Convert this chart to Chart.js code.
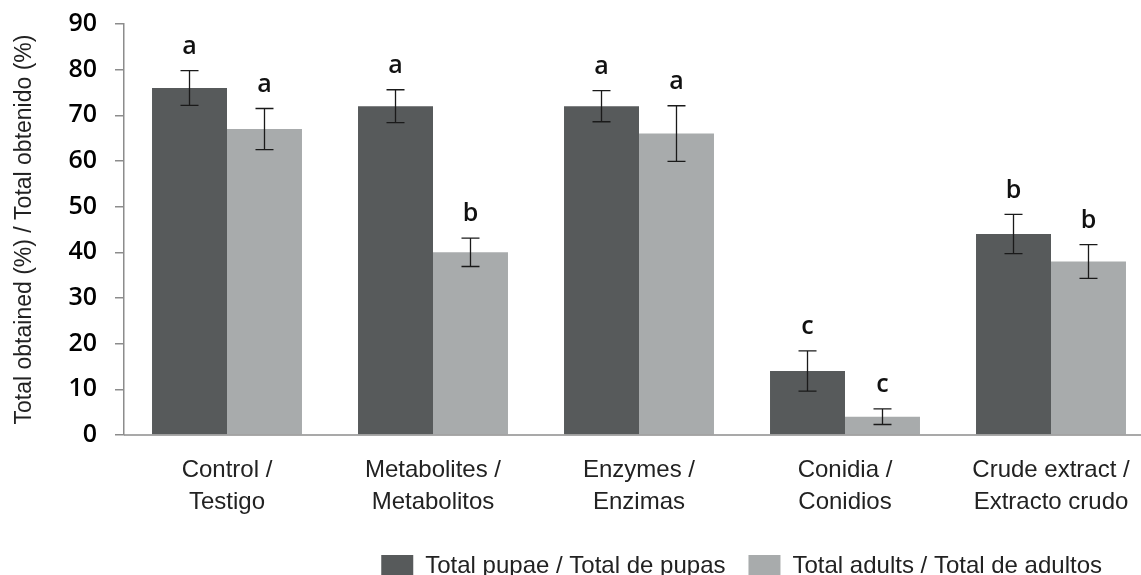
<!DOCTYPE html>
<html>
<head>
<meta charset="utf-8">
<script src="https://cdn.jsdelivr.net/npm/chart.js@4.4.1/dist/chart.umd.min.js"></script>
<style>
    html, body { margin: 0; padding: 0; background: #fff; overflow: hidden; }
    #wrap { width: 1141px; height: 575px; overflow: hidden; }
</style>
</head>
<body>
<div id="wrap"><canvas id="chart" width="1160" height="575"></canvas></div>
<script>
var categories = [
    ['Control /', 'Testigo'],
    ['Metabolites /', 'Metabolitos'],
    ['Enzymes /', 'Enzimas'],
    ['Conidia /', 'Conidios'],
    ['Crude extract /', 'Extracto crudo']
];
var pupae = [76, 72, 72, 14, 44];
var pupaeErr = [3.8, 3.6, 3.4, 4.4, 4.3];
var pupaeLetters = ['a', 'a', 'a', 'c', 'b'];
var adults = [67, 40, 66, 4, 38];
var adultsErr = [4.5, 3.1, 6.1, 1.7, 3.7];
var adultsLetters = ['a', 'b', 'a', 'c', 'b'];
var yTicks = [0, 10, 20, 30, 40, 50, 60, 70, 80, 90];

var errors = [pupaeErr, adultsErr];
var letters = [pupaeLetters, adultsLetters];

// error bars + significance letters on top of each bar
var errorBarPlugin = {
    id: 'errorBars',
    afterDatasetsDraw: function (chart) {
        var ctx = chart.ctx;
        var y = chart.scales.y;
        ctx.save();
        chart.data.datasets.forEach(function (ds, i) {
            var meta = chart.getDatasetMeta(i);
            meta.data.forEach(function (bar, j) {
                var v = ds.data[j];
                var e = errors[i][j];
                var top = y.getPixelForValue(v + e);
                var bot = y.getPixelForValue(v - e);
                ctx.strokeStyle = '#1a1a1a';
                ctx.lineWidth = 1.3;
                ctx.beginPath();
                ctx.moveTo(bar.x, top); ctx.lineTo(bar.x, bot);
                ctx.moveTo(bar.x - 9, top); ctx.lineTo(bar.x + 9, top);
                ctx.moveTo(bar.x - 9, bot); ctx.lineTo(bar.x + 9, bot);
                ctx.stroke();

                ctx.fillStyle = '#111';
                ctx.font = '600 25px "Open Sans"';
                ctx.textAlign = 'center';
                ctx.textBaseline = 'middle';
                ctx.fillText(letters[i][j], bar.x, top - 24);
            });
        });
        // x axis line runs on to the page edge
        ctx.strokeStyle = '#8c8c8c';
        ctx.lineWidth = 1.5;
        ctx.beginPath();
        ctx.moveTo(chart.chartArea.left, chart.chartArea.bottom);
        ctx.lineTo(chart.width, chart.chartArea.bottom);
        ctx.stroke();
        ctx.restore();
    },
    afterLayout: function (chart) {
        // put the legend low and a bit left, like in the original
        var lg = chart.legend;
        var h = lg.bottom - lg.top;
        lg.top = 531;
        lg.bottom = lg.top + h;
        lg.left -= 29; lg.right -= 29;
    }
};

var ctx = document.getElementById('chart');
var myChart = new Chart(ctx, {
    type: 'bar',
    data: {
        labels: categories,
        datasets: [{
            label: 'Total pupae / Total de pupas',
            data: pupae,
            backgroundColor: '#575a5b',
            borderWidth: 0
        }, {
            label: 'Total adults / Total de adultos',
            data: adults,
            backgroundColor: '#a8abac',
            borderWidth: 0
        }]
    },
    plugins: [errorBarPlugin],
    options: {
        responsive: false,
        animation: false,
        devicePixelRatio: 1,
        layout: {
            padding: { left: 0, right: 6, top: 0, bottom: -20 }
        },
        datasets: {
            bar: {
                categoryPercentage: 0.728,
                barPercentage: 1.0
            }
        },
        scales: {
            x: {
                grid: { display: false, drawTicks: false },
                border: { display: false },
                ticks: {
                    color: '#222',
                    padding: 19,
                    maxRotation: 0,
                    autoSkip: false,
                    font: { family: '"Liberation Sans", Arial, sans-serif', size: 24, lineHeight: 1.33 }
                },
                afterFit: function (scale) { scale.height = 103; }
            },
            y: {
                min: 0,
                max: 90,
                afterBuildTicks: function (scale) {
                    scale.ticks = yTicks.map(function (v) { return { value: v }; });
                },
                grid: { drawOnChartArea: false, tickLength: 9, color: '#8c8c8c', lineWidth: 1.5 },
                border: { color: '#8c8c8c', width: 1.5 },
                ticks: {
                    color: '#000',
                    padding: 18,
                    font: { family: '"Open Sans"', size: 25, weight: '600' }
                },
                title: {
                    display: true,
                    text: 'Total obtained (%) / Total obtenido (%)',
                    color: '#222',
                    padding: { top: 11, bottom: 0 },
                    font: { family: '"Liberation Sans", Arial, sans-serif', size: 23 }
                },
                afterFit: function (scale) {
                    scale.width = 124;
                    scale.paddingTop = 24;
                    scale.paddingBottom = 0;
                }
            }
        },
        plugins: {
            legend: {
                position: 'bottom',
                align: 'end',
                labels: {
                    boxWidth: 32,
                    boxHeight: 22,
                    padding: 23,
                    color: '#222',
                    font: { family: '"Liberation Sans", Arial, sans-serif', size: 24 }
                }
            },
            tooltip: { enabled: false }
        }
    }
});
</script>
</body>
</html>
